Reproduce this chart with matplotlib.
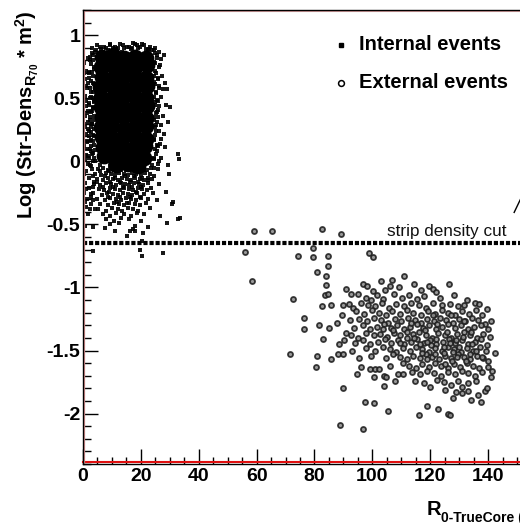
import matplotlib
matplotlib.use('Agg')
import matplotlib.pyplot as plt
import matplotlib.transforms as mtransforms
from matplotlib.lines import Line2D

plt.rcParams['font.family'] = ['Liberation Sans', 'DejaVu Sans']
plt.rcParams['font.weight'] = 'bold'
plt.rcParams['axes.unicode_minus'] = False
plt.rcParams['mathtext.fontset'] = 'custom'
plt.rcParams['mathtext.rm'] = 'Liberation Sans:bold'
plt.rcParams['mathtext.it'] = 'Liberation Sans:bold'
plt.rcParams['mathtext.bf'] = 'Liberation Sans:bold'
plt.rcParams['mathtext.default'] = 'rm'

# ---------------- data ----------------
# solid core of the internal-event cloud (large markers so it reads as solid black)
internal_core = [
    (6.5, 0.83), (10.3, 0.84), (14.1, 0.82), (18.0, 0.83), (21.8, 0.82),
    (6.1, 0.75), (10.0, 0.76), (13.9, 0.74), (17.8, 0.75), (22.0, 0.76),
    (6.4, 0.67), (10.2, 0.66), (14.2, 0.68), (18.1, 0.67), (21.9, 0.66),
    (6.0, 0.59), (10.1, 0.60), (14.0, 0.58), (17.9, 0.59), (22.1, 0.60),
    (6.3, 0.51), (10.3, 0.50), (14.1, 0.52), (18.0, 0.51), (21.8, 0.50),
    (6.1, 0.43), (10.0, 0.44), (13.9, 0.42), (17.8, 0.43), (22.0, 0.44),
    (6.4, 0.35), (10.2, 0.34), (14.2, 0.36), (18.1, 0.35), (21.9, 0.34),
    (6.2, 0.27), (10.1, 0.28), (14.0, 0.26), (17.9, 0.27), (21.7, 0.28),
    (6.6, 0.19), (10.3, 0.18), (14.1, 0.20), (18.0, 0.19), (21.6, 0.18),
    (6.8, 0.11), (10.4, 0.12), (14.2, 0.10), (18.1, 0.11), (21.4, 0.12),
    (7.2, 0.04), (10.6, 0.03), (14.3, 0.05), (17.9, 0.04), (21.2, 0.03),
    (11.5, -0.03), (15.6, -0.02), (19.0, -0.04),
]

# sparser internal events around the core
internal_fringe = [
    # band hugging the core
    (3.2, 0.86), (2.4, 0.83), (3.6, 0.80), (2.8, 0.77), (3.9, 0.73), (2.2, 0.71), (3.4, 0.68),
    (2.7, 0.64), (3.8, 0.61), (2.3, 0.58), (3.3, 0.55), (2.9, 0.51), (3.7, 0.48), (2.1, 0.46),
    (3.5, 0.43), (2.6, 0.39), (3.9, 0.36), (2.4, 0.33), (3.1, 0.30), (3.8, 0.26), (2.2, 0.24),
    (3.4, 0.21), (2.8, 0.17), (3.9, 0.13), (2.5, 0.10), (3.3, 0.07), (2.1, 0.03), (3.6, 0.00),
    (2.9, -0.04),
    (24.8, 0.86), (25.7, 0.82), (24.6, 0.79), (26.1, 0.75), (25.0, 0.72), (24.7, 0.68), (25.9, 0.65),
    (24.9, 0.61), (26.3, 0.58), (25.1, 0.55), (24.6, 0.51), (25.8, 0.48), (24.8, 0.45), (26.0, 0.41),
    (25.2, 0.38), (24.5, 0.35), (25.6, 0.31), (24.9, 0.27), (26.2, 0.24), (25.0, 0.21), (24.6, 0.17),
    (25.7, 0.13), (24.8, 0.10), (25.3, 0.06), (24.5, 0.02), (25.9, -0.02), (24.7, -0.05),
    (6.0, 0.91), (7.8, 0.90), (9.2, 0.92), (11.0, 0.91), (12.2, 0.90), (13.9, 0.92), (15.8, 0.91),
    (16.9, 0.90), (18.6, 0.92), (19.8, 0.91), (21.2, 0.92), (22.8, 0.89), (24.0, 0.88), (4.6, 0.88),
    # left edge
    (0.5, 0.78), (1.2, 0.72), (0.8, 0.65), (2.0, 0.70), (1.5, 0.58), (0.6, 0.52), (2.4, 0.50),
    (1.1, 0.44), (3.0, 0.40), (0.7, 0.36), (1.8, 0.31), (2.8, 0.27), (0.9, 0.22), (2.2, 0.16),
    (1.4, 0.10), (3.1, 0.06), (0.6, 0.02), (2.5, -0.03), (1.2, -0.08), (3.4, -0.12), (0.8, -0.17),
    (2.0, -0.21), (3.6, -0.25), (1.5, -0.30), (2.9, -0.34), (4.2, -0.38), (0.9, -0.36), (3.3, 0.84),
    (2.5, 0.80), (3.8, 0.75), (1.9, 0.62), (3.5, 0.62), (2.9, 0.55), (3.8, 0.47), (1.9, 0.40),
    (3.7, 0.33), (1.6, 0.26), (3.9, 0.20), (2.9, 0.12), (4.1, 0.09), (1.9, 0.04), (4.3, 0.00),
    (0.4, 0.30), (0.4, 0.12), (0.5, -0.25), (1.9, -0.42),
    (0.3, 0.70), (1.0, 0.60), (2.2, 0.66), (3.1, 0.71), (0.9, 0.48), (2.0, 0.45), (3.3, 0.50),
    (1.3, 0.38), (2.5, 0.35), (3.2, 0.30), (0.6, 0.27), (2.0, 0.20), (3.4, 0.16), (0.8, 0.16),
    (2.6, 0.08), (1.0, 0.05), (3.7, 0.03), (1.6, -0.02), (3.0, -0.06), (0.5, -0.10), (2.1, -0.13),
    (3.9, -0.16), (1.1, -0.22), (2.7, -0.28), (0.7, -0.32), (3.6, -0.31), (2.3, -0.38), (3.0, 0.90),
    (1.6, 0.82), (4.1, 0.87), (3.6, 0.42), (2.6, 0.23), (1.4, 0.15), (3.3, -0.20),
    # right edge
    (24.5, 0.88), (25.6, 0.84), (26.4, 0.87), (28.0, 0.84), (24.9, 0.78), (26.7, 0.76), (25.3, 0.70),
    (27.3, 0.68), (24.6, 0.63), (26.2, 0.60), (28.4, 0.62), (29.0, 0.57), (25.2, 0.54), (27.0, 0.51),
    (24.8, 0.47), (26.4, 0.44), (28.6, 0.45), (29.9, 0.43), (25.5, 0.39), (27.5, 0.36), (24.7, 0.33),
    (26.8, 0.29), (29.4, 0.31), (25.3, 0.24), (27.9, 0.22), (24.6, 0.18), (26.5, 0.14), (28.2, 0.11),
    (25.4, 0.08), (24.4, 0.03), (27.1, 0.03), (29.5, -0.03), (33.0, 0.06), (33.3, 0.02), (29.8, -0.10),
    (25.8, -0.06), (24.6, -0.12), (26.4, -0.18), (28.7, -0.24), (24.2, -0.25), (25.7, -0.31),
    (30.6, -0.34), (31.2, -0.32), (26.6, -0.43), (28.9, -0.49), (33.0, -0.46), (33.5, -0.45),
    (25.0, 0.90), (26.9, 0.81), (25.9, 0.66), (27.8, 0.57), (25.6, 0.49), (26.0, 0.35), (25.1, 0.29),
    (27.0, 0.18), (25.9, 0.12), (26.3, 0.00),
    # top edge
    (4.7, 0.92), (6.1, 0.89), (7.3, 0.91), (8.8, 0.88), (10.2, 0.90), (11.5, 0.89), (12.8, 0.93),
    (14.0, 0.90), (15.2, 0.91), (16.6, 0.89), (18.0, 0.93), (19.1, 0.90), (20.3, 0.93), (21.6, 0.89),
    (23.2, 0.91), (22.4, 0.88), (9.5, 0.93), (17.2, 0.94), (13.5, 0.87), (5.5, 0.86),
    # speckled lower part
    (5.2, -0.06), (7.0, -0.05), (8.5, -0.07), (10.1, -0.05), (11.8, -0.06), (13.0, -0.07), (14.6, -0.05),
    (16.2, -0.06), (17.5, -0.07), (19.0, -0.05), (20.6, -0.06), (22.1, -0.07), (23.4, -0.05),
    (6.0, -0.03), (9.3, -0.04), (12.2, -0.03), (15.4, -0.04), (18.3, -0.03), (21.2, -0.04), (23.8, -0.03),
    (4.3, -0.10), (6.2, -0.11), (7.8, -0.09), (9.6, -0.10), (11.0, -0.11), (12.5, -0.09), (14.0, -0.10),
    (15.5, -0.11), (17.0, -0.09), (18.4, -0.10), (20.0, -0.11), (21.5, -0.09), (23.0, -0.10),
    (5.8, -0.08), (8.9, -0.08), (12.1, -0.08), (15.0, -0.07), (18.0, -0.08), (21.0, -0.07),
    (5.0, -0.14), (6.9, -0.15), (8.8, -0.13), (10.5, -0.14), (12.0, -0.15), (13.6, -0.13), (15.2, -0.14),
    (16.6, -0.15), (18.0, -0.13), (19.6, -0.14), (21.0, -0.15), (22.6, -0.13),
    (7.6, -0.12), (11.0, -0.13), (14.4, -0.12), (17.6, -0.12), (20.5, -0.13), (24.0, -0.14),
    (3.8, -0.18), (6.0, -0.19), (8.0, -0.17), (9.8, -0.18), (11.3, -0.19), (13.0, -0.17), (14.5, -0.18),
    (16.0, -0.19), (17.6, -0.17), (19.3, -0.18), (20.8, -0.19), (22.3, -0.17),
    (4.7, -0.16), (9.4, -0.16), (12.9, -0.16), (16.1, -0.16), (19.0, -0.16), (22.5, -0.15),
    (5.4, -0.22), (7.4, -0.23), (9.2, -0.21), (11.0, -0.22), (12.7, -0.23), (14.3, -0.21), (15.9, -0.22),
    (17.3, -0.23), (19.0, -0.21), (20.5, -0.22), (22.0, -0.23), (23.6, -0.21),
    (7.0, -0.20), (10.5, -0.20), (13.8, -0.20), (17.0, -0.20), (20.2, -0.20), (9.0, -0.24), (18.2, -0.24),
    (2.8, -0.26), (6.5, -0.27), (8.4, -0.25), (10.2, -0.26), (12.0, -0.27), (13.7, -0.25), (15.4, -0.26),
    (17.0, -0.27), (18.6, -0.25), (21.2, -0.26), (8.6, -0.28), (12.7, -0.28), (16.3, -0.28), (19.8, -0.28),
    (4.8, -0.30), (7.6, -0.31), (9.5, -0.29), (11.3, -0.30), (13.1, -0.31), (14.9, -0.29), (16.6, -0.30),
    (18.2, -0.31), (20.0, -0.29), (22.6, -0.30), (11.6, -0.32), (15.1, -0.33),
    (6.0, -0.34), (8.7, -0.35), (10.6, -0.33), (12.4, -0.34), (14.2, -0.35), (16.0, -0.33), (17.8, -0.34),
    (19.6, -0.35), (21.8, -0.33),
    (5.3, -0.38), (7.8, -0.39), (10.0, -0.37), (12.0, -0.38), (13.6, -0.39), (15.5, -0.37), (17.3, -0.38),
    (19.0, -0.39), (23.0, -0.37),
    (6.8, -0.42), (9.2, -0.43), (11.4, -0.41), (14.0, -0.42), (16.7, -0.43), (18.5, -0.41), (21.2, -0.42),
    (8.0, -0.46), (10.6, -0.47), (13.3, -0.45), (15.8, -0.46), (20.0, -0.47),
    (9.5, -0.50), (12.6, -0.49), (17.8, -0.51),
    # outliers
    (3.6, -0.52), (0.7, -0.51), (7.6, -0.53), (11.1, -0.55), (16.2, -0.55), (17.4, -0.54),
    (22.6, -0.52), (18.0, -0.55), (20.7, -0.57), (15.1, -0.59), (20.3, -0.63), (19.7, -0.70),
    (20.3, -0.75), (3.6, -0.71), (27.7, -0.73),
]

external_events = [
    # sparse, near and above the cut
    (59.1, -0.55), (65.4, -0.55), (82.7, -0.54), (89.1, -0.58), (56.0, -0.72), (74.4, -0.75),
    (79.6, -0.69), (79.4, -0.76), (84.8, -0.75), (99.0, -0.73), (100.2, -0.76), (58.5, -0.95),
    (72.5, -1.09), (76.4, -1.24), (76.2, -1.33), (71.6, -1.53),
    (84.8, -0.83), (81.0, -0.88), (83.9, -0.91), (83.9, -0.98), (83.6, -1.06), (84.6, -1.05),
    (82.7, -1.15), (85.7, -1.14), (81.6, -1.30), (85.1, -1.32), (83.1, -1.41), (80.8, -1.54),
    (80.4, -1.63),
    # main body
    (96.9, -0.97), (98.0, -0.99), (102.9, -0.95), (106.7, -0.94), (106.1, -0.99), (111.0, -0.91),
    (114.5, -0.97), (119.4, -0.99), (121.1, -1.01), (121.9, -1.04), (126.5, -0.97), (90.9, -1.01),
    (104.5, -1.02), (109.2, -1.00), (116.8, -1.02), (100.3, -1.03),
    (92.6, -1.05), (95.2, -1.05), (97.8, -1.08), (101.5, -1.06), (103.8, -1.09), (107.5, -1.05),
    (110.2, -1.08), (112.6, -1.06), (115.4, -1.09), (118.0, -1.07), (123.5, -1.08), (128.2, -1.06),
    (132.6, -1.10), (135.5, -1.12), (99.5, -1.10),
    (90.0, -1.14), (92.0, -1.13), (93.4, -1.16), (96.0, -1.12), (98.6, -1.14), (101.0, -1.15),
    (103.2, -1.12), (105.8, -1.16), (108.3, -1.13), (110.9, -1.15), (113.4, -1.12), (116.1, -1.14),
    (118.6, -1.16), (121.0, -1.12), (124.2, -1.14), (126.8, -1.13), (129.5, -1.15), (131.8, -1.14),
    (137.0, -1.13), (139.5, -1.17),
    (89.4, -1.22), (94.5, -1.19), (97.2, -1.21), (99.8, -1.18), (102.4, -1.20), (104.6, -1.22),
    (106.9, -1.19), (109.5, -1.21), (111.8, -1.18), (114.2, -1.20), (116.7, -1.22), (119.3, -1.19),
    (121.8, -1.21), (123.9, -1.18), (126.2, -1.20), (128.7, -1.22), (130.9, -1.19), (133.4, -1.21),
    (135.8, -1.18), (138.0, -1.22),
    (87.9, -1.28), (92.1, -1.26), (95.5, -1.25), (98.1, -1.27), (100.6, -1.24), (102.9, -1.26),
    (105.3, -1.28), (107.7, -1.25), (110.0, -1.27), (112.3, -1.24), (114.6, -1.26), (116.9, -1.28),
    (119.0, -1.25), (121.2, -1.27), (123.4, -1.24), (125.6, -1.26), (127.7, -1.28), (129.9, -1.25),
    (132.1, -1.27), (134.3, -1.24), (136.6, -1.26), (138.9, -1.29), (141.0, -1.27),
    (90.9, -1.36), (93.7, -1.32), (96.8, -1.30), (99.3, -1.33), (101.7, -1.31), (104.0, -1.29),
    (106.4, -1.32), (108.6, -1.30), (111.0, -1.33), (113.1, -1.31), (115.3, -1.29), (117.5, -1.32),
    (119.7, -1.30), (121.9, -1.33), (124.1, -1.31), (126.3, -1.29), (128.5, -1.32), (130.7, -1.30),
    (132.9, -1.33), (135.1, -1.31), (137.4, -1.30), (139.8, -1.33),
    (92.5, -1.38), (95.0, -1.40), (97.9, -1.36), (100.5, -1.38), (102.8, -1.37), (105.1, -1.39),
    (107.4, -1.36), (109.6, -1.38), (111.8, -1.40), (114.0, -1.37), (116.2, -1.35), (118.4, -1.38),
    (120.6, -1.40), (122.8, -1.36), (125.0, -1.38), (127.2, -1.40), (129.4, -1.37), (131.6, -1.35),
    (133.8, -1.38), (136.0, -1.40), (138.3, -1.37), (140.5, -1.39),
    (88.5, -1.45), (90.3, -1.42), (94.0, -1.44), (96.6, -1.42), (99.2, -1.45), (101.8, -1.43),
    (104.2, -1.41), (106.5, -1.44), (108.8, -1.42), (111.1, -1.45), (113.3, -1.43), (115.5, -1.41),
    (117.7, -1.44), (119.9, -1.42), (122.1, -1.45), (124.3, -1.43), (126.5, -1.41), (128.7, -1.44),
    (130.9, -1.42), (133.1, -1.45), (135.3, -1.43), (137.5, -1.41), (139.5, -1.46),
    (93.0, -1.50), (97.8, -1.48), (101.0, -1.50), (103.6, -1.47), (106.0, -1.49), (108.3, -1.51),
    (110.6, -1.48), (112.9, -1.50), (115.1, -1.47), (117.3, -1.49), (119.5, -1.51), (121.7, -1.48),
    (123.9, -1.50), (126.1, -1.47), (128.3, -1.49), (130.5, -1.51), (132.7, -1.48), (134.9, -1.50),
    (137.1, -1.47), (139.2, -1.50), (142.4, -1.52),
    (85.6, -1.57), (88.0, -1.53), (90.0, -1.53), (95.4, -1.56), (99.6, -1.54), (104.8, -1.56),
    (107.2, -1.53), (109.5, -1.55), (111.8, -1.57), (114.0, -1.54), (116.3, -1.56), (118.5, -1.53),
    (120.7, -1.55), (122.9, -1.57), (125.1, -1.54), (127.3, -1.56), (129.5, -1.53), (131.7, -1.55),
    (133.9, -1.57), (136.1, -1.54), (138.3, -1.56), (140.1, -1.58),
    (96.2, -1.63), (99.2, -1.65), (100.9, -1.65), (102.3, -1.65), (106.0, -1.62), (110.5, -1.60),
    (112.8, -1.62), (115.0, -1.64), (117.2, -1.61), (119.4, -1.63), (121.6, -1.60), (123.8, -1.62),
    (126.0, -1.64), (128.2, -1.61), (130.4, -1.63), (132.6, -1.60), (134.8, -1.62), (137.0, -1.64),
    (140.1, -1.63),
    (94.6, -1.69), (100.5, -1.71), (104.0, -1.70), (104.7, -1.71), (109.0, -1.69), (110.7, -1.69),
    (113.6, -1.67), (116.4, -1.69), (118.8, -1.66), (121.3, -1.68), (123.7, -1.70), (126.0, -1.67),
    (128.4, -1.69), (130.8, -1.66), (133.0, -1.68), (135.3, -1.70), (137.8, -1.67), (141.5, -1.66),
    (140.9, -1.71),
    (104.0, -1.78), (107.8, -1.74), (114.8, -1.74), (117.9, -1.76), (120.0, -1.79), (122.5, -1.73),
    (124.9, -1.75), (127.3, -1.77), (129.6, -1.74), (131.1, -1.79), (133.2, -1.76), (135.7, -1.74),
    (138.9, -1.82), (139.5, -1.80),
    (90.0, -1.80), (125.0, -1.81), (127.9, -1.88), (131.1, -1.84), (133.2, -1.82), (129.0, -1.83),
    (136.4, -1.85),
    (97.5, -1.91), (100.7, -1.92), (105.5, -1.98), (118.8, -1.94), (122.8, -1.96), (126.3, -2.00),
    (126.8, -2.01), (134.0, -1.89), (137.4, -1.91), (116.0, -2.01), (88.9, -2.09), (96.6, -2.12),
    # extra points in the densest part
    (113.5, -1.28), (118.2, -1.34), (122.5, -1.29), (125.8, -1.35), (128.9, -1.42), (131.2, -1.39),
    (134.5, -1.45), (120.3, -1.46), (117.0, -1.52), (124.6, -1.52), (127.6, -1.58), (130.1, -1.47),
    (133.6, -1.53), (114.4, -1.40), (111.9, -1.35), (126.9, -1.44), (122.0, -1.41), (129.2, -1.55),
    (132.3, -1.58), (125.2, -1.61), (119.0, -1.57), (116.5, -1.45), (135.8, -1.50), (137.9, -1.55),
    (109.4, -1.44), (107.1, -1.34), (103.5, -1.33), (120.8, -1.22), (127.1, -1.22), (131.7, -1.27),
    (124.8, -1.47), (128.0, -1.51), (121.5, -1.53), (118.9, -1.43), (134.1, -1.35),
]

strip_density_cut = -0.65
legend_labels = ['Internal events', 'External events']
x_ticks = [0, 20, 40, 60, 80, 100, 120, 140]
x_tick_labels = ['0', '20', '40', '60', '80', '100', '120', '140']
y_ticks = [-2, -1.5, -1, -0.5, 0, 0.5, 1]
y_tick_labels = ['-2', '-1.5', '-1', '-0.5', '0', '0.5', '1']
pointer_x = [149, 156]
pointer_y = [-0.405, -0.07]

# ---------------- figure ----------------
W, H = 520, 523
fig = plt.figure(figsize=(W / 100, H / 100), dpi=100)
fig.patch.set_facecolor('white')

ax_left, ax_right_px, ax_top, ax_bot = 83, 546, 10, 464
ax = fig.add_axes([ax_left / W, (H - ax_bot) / H, (ax_right_px - ax_left) / W, (ax_bot - ax_top) / H])
ax.set_xlim(0, 160)
ax.set_ylim(-2.4, 1.2)


def unzip(points):
    return [p[0] for p in points], [p[1] for p in points]


cx, cy = unzip(internal_core)
fx, fy = unzip(internal_fringe)
ex, ey = unzip(external_events)

ax.scatter(cx, cy, s=130, marker='o', color='black', linewidths=0, zorder=2)
ax.scatter(fx, fy, s=6, marker='s', color='black', linewidths=0, alpha=0.9, zorder=2)
ax.scatter(ex, ey, s=13, marker='o', facecolors='#8c8c8c', edgecolors='#1e1e1e',
           linewidths=1.3, alpha=0.88, zorder=2)

ax.axhline(strip_density_cut, color='black', lw=3.0, linestyle=(0, (1.0, 0.45)), zorder=3)
ax.text(105.1, -0.595, 'strip density cut', fontsize=12.3, fontweight='normal',
        color='#111111', ha='left', va='baseline')
ax.plot(pointer_x, pointer_y, color='black', lw=1.0, clip_on=False)

# ticks
ax.set_xticks(x_ticks)
ax.set_xticklabels(x_tick_labels)
ax.set_yticks(y_ticks)
ax.set_yticklabels(y_tick_labels)
ax.xaxis.set_minor_locator(matplotlib.ticker.MultipleLocator(5))
ax.yaxis.set_minor_locator(matplotlib.ticker.MultipleLocator(0.1))
ax.tick_params(axis='both', which='major', direction='in', length=10.8, width=1.0,
               color='black', labelsize=14, top=False, right=False)
ax.tick_params(axis='both', which='minor', direction='in', length=5.4, width=1.0,
               color='black', top=False, right=False)
ax.tick_params(axis='y', which='major', pad=2)
ax.tick_params(axis='x', which='major', pad=3)
for lab in ax.get_xticklabels() + ax.get_yticklabels():
    lab.set_fontweight('bold')

# frame
for side in ['left', 'top', 'bottom']:
    ax.spines[side].set_color('black')
    ax.spines[side].set_linewidth(1.0)
    ax.spines[side].set_zorder(5)
ax.spines['right'].set_visible(False)
t_bot = mtransforms.offset_copy(ax.transAxes, fig=fig, x=0, y=1.8, units='dots')
ax.plot([0, 1], [0, 0], transform=t_bot, color='#e01010', lw=1.5, clip_on=False, zorder=4)
t_left = mtransforms.offset_copy(ax.transAxes, fig=fig, x=1.3, y=0, units='dots')
ax.plot([0, 0], [0, 1], transform=t_left, color='#d89090', lw=0.9, clip_on=False, zorder=4)
t_top = mtransforms.offset_copy(ax.transAxes, fig=fig, x=0, y=-1.3, units='dots')
ax.plot([0, 1], [1, 1], transform=t_top, color='#d8a0a0', lw=0.8, clip_on=False, zorder=4)


# legend (manual)
def fx_(px):
    return px / W


def fy_(py):
    return 1 - py / H


fig.add_artist(Line2D([fx_(341)], [fy_(45)], marker='s', markersize=3.2, color='black',
                      linestyle='none', transform=fig.transFigure))
fig.add_artist(Line2D([fx_(341)], [fy_(83)], marker='o', markersize=4.2, markerfacecolor='none',
                      markeredgecolor='black', markeredgewidth=1.1, linestyle='none',
                      transform=fig.transFigure))
fig.text(fx_(359), fy_(45), legend_labels[0], fontsize=14.5, fontweight='bold', ha='left', va='center')
fig.text(fx_(359), fy_(83), legend_labels[1], fontsize=14.5, fontweight='bold', ha='left', va='center')

# axis titles
fig.text(fx_(33), fy_(10), r'Log (Str-Dens$_{\mathrm{R}_{\mathrm{70}}}$ * m$^{2}$)', fontsize=14.5,
         fontweight='bold', rotation=90, rotation_mode='anchor', ha='right', va='baseline')
fig.text(fx_(427), fy_(515), 'R', fontsize=14.5, fontweight='bold', ha='left', va='baseline')
fig.text(fx_(441), fy_(522), '0-TrueCore (m)', fontsize=10, fontweight='bold', ha='left', va='baseline')

fig.savefig('out.png', dpi=100)
